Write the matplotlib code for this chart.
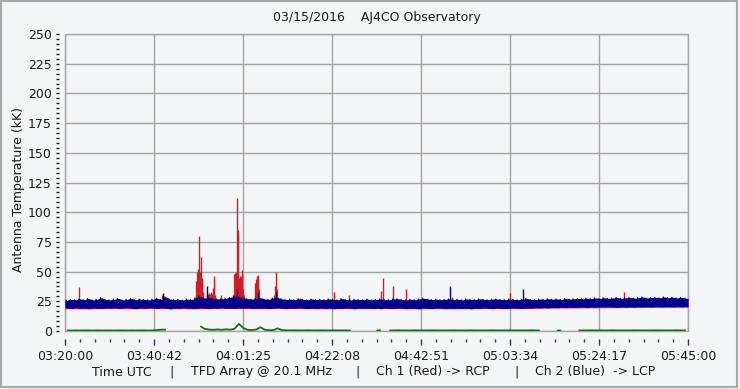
import matplotlib
matplotlib.use('Agg')
import matplotlib.pyplot as plt
import numpy as np
from matplotlib.ticker import MultipleLocator, AutoMinorLocator, FixedLocator
from matplotlib.patches import Rectangle

# ---------------- data (seconds after 03:20:00 UTC) ----------------
BIN_S = 60
T_END = 8700

blue_hi = [
    26.0, 26.6, 26.2, 27.0, 26.3, 27.3, 26.1, 26.7, 28.0, 26.4,
    26.2, 26.8, 27.4, 26.1, 26.6, 27.5, 26.3, 26.9, 26.5, 26.2,
    26.7, 27.6, 26.4, 28.8, 26.8, 26.3, 26.6, 26.0, 26.9, 26.4,
    28.0, 29.0, 27.8, 28.5, 27.4, 27.0, 27.2, 27.6, 28.2, 29.5,
    28.8, 27.8, 27.2, 26.8, 27.4, 28.0, 26.9, 26.6, 27.8, 28.2,
    27.0, 26.4, 26.8, 26.3, 27.2, 26.6, 26.2, 26.9, 26.4, 26.7,
    26.3, 27.0, 26.6, 26.2, 27.3, 26.4, 26.1, 26.7, 26.5, 26.3,
    26.8, 26.2, 26.6, 27.0, 26.4, 26.3, 26.9, 27.2, 26.5, 26.2,
    26.7, 26.3, 27.0, 27.6, 26.9, 26.4, 26.8, 26.3, 26.6, 27.0,
    26.4, 26.7, 26.2, 26.9, 26.6, 26.4, 27.1, 26.7, 26.3, 26.8,
    27.0, 26.5, 26.3, 26.9, 26.6, 26.2, 26.8, 27.3, 26.6, 26.4,
    26.9, 26.6, 27.2, 26.7, 27.0, 26.5, 27.3, 26.8, 27.1, 27.4,
    27.0, 27.6, 27.2, 27.8, 27.3, 28.0, 27.4, 27.7, 28.2, 27.5,
    27.9, 28.3, 27.6, 28.1, 28.6, 27.8, 28.2, 28.4, 27.9, 28.7,
    28.0, 28.4, 27.8, 28.3, 27.6,
]
blue_lo = [
    19.6, 19.0, 19.8, 19.2, 19.5, 18.9, 19.7, 19.3, 19.0, 19.6,
    19.2, 19.8, 19.1, 19.5, 19.9, 19.3, 18.8, 19.6, 19.2, 19.7,
    19.4, 19.0, 19.8, 19.3, 18.6, 19.5, 19.1, 19.7, 19.2, 19.4,
    19.0, 19.6, 19.3, 18.9, 19.5, 19.2, 19.8, 19.1, 19.4, 19.0,
    19.6, 19.2, 19.7, 19.0, 19.4, 19.1, 19.5, 18.9, 19.3, 19.6,
    19.2, 18.8, 19.5, 19.1, 19.7, 19.3, 18.9, 19.4, 19.0, 19.6,
    19.1, 19.5, 18.8, 19.3, 19.0, 19.6, 19.2, 18.7, 19.4, 19.1,
    19.5, 19.0, 19.3, 18.8, 19.4, 19.1, 18.9, 19.5, 19.2, 18.8,
    19.3, 19.0, 18.7, 19.4, 19.1, 18.9, 19.5, 19.2, 18.8, 19.3,
    19.0, 19.4, 18.9, 19.2, 18.6, 19.3, 19.0, 19.5, 19.1, 18.8,
    19.4, 19.1, 18.9, 19.3, 19.6, 19.2, 19.0, 19.5, 19.3, 19.7,
    19.4, 19.8, 19.5, 19.9, 19.6, 20.0, 19.7, 20.2, 19.8, 20.1,
    20.3, 19.9, 20.4, 20.1, 20.5, 20.2, 20.6, 20.3, 20.0, 20.5,
    20.2, 20.6, 20.3, 20.8, 20.4, 20.7, 20.3, 20.9, 20.5, 20.6,
    20.8, 20.4, 20.9, 20.5, 20.7,
]

RED_STEP_S = 300
red_lo = [18.8, 18.6, 18.9, 18.7, 19.0, 18.8, 18.7, 19.0, 18.9, 18.8,
          19.0, 18.9, 18.7, 18.9, 18.8, 19.0, 18.8, 18.9, 18.7, 18.9,
          19.0, 18.8, 19.2, 19.4, 19.5, 19.6, 19.7, 19.8, 19.9, 20.0]
red_hi = [25.5, 25.8, 25.6, 25.9, 25.7, 26.0, 26.2, 26.4, 26.2, 26.0,
          25.8, 25.6, 25.9, 25.7, 25.8, 25.6, 25.9, 25.7, 25.6, 25.8,
          25.7, 25.9, 26.0, 26.2, 26.4, 26.6, 26.8, 27.0, 27.2, 27.0]

red_spike_t = [196, 1357,
               1832, 1846, 1860, 1871, 1885, 1900, 1914, 1928,
               1983, 1997, 2011, 2025, 2039, 2053, 2067, 2077, 2090,
               2174, 2272,
               2342, 2356, 2370, 2384, 2398, 2412, 2426, 2440, 2454, 2468, 2482, 2496,
               2656, 2670, 2684, 2698, 2712,
               2914, 2928, 2942, 2956,
               3278, 3757, 3966, 4419, 4441, 4580, 4762, 5400, 6220, 7806]
red_spike_v = [37, 30,
               42, 50, 52, 80, 50, 62, 45, 33,
               32, 31, 32, 31, 33, 31, 36, 46, 30,
               30, 28,
               30, 48, 49, 50, 112, 85, 45, 46, 46, 51, 35, 30,
               40, 44, 46, 47, 35,
               30, 38, 50, 35,
               28, 33, 30, 34, 45, 38, 35, 29, 32, 33]

blue_spike_t = [1364, 1857, 1983, 2398, 2691, 2942, 5377, 6402]
blue_spike_v = [32, 30, 38, 35, 33, 33, 38, 35]

nan = float('nan')
green = [
    0.5, 0.4, 0.5, 0.4, 0.5, 0.5, 0.4, 0.5, 0.4, 0.5,
    0.5, 0.4, 0.5, 0.5, 0.4, 0.5, 0.4, 0.5, 0.5, 0.4,
    0.5, 0.8, 1.2, 1.0, nan, nan, nan, nan, nan, nan,
    nan, 4.0, 1.8, 1.2, 1.0, 1.3, 1.0, 1.4, 1.1, 2.0,
    6.0, 2.5, 1.0, 0.8, 1.2, 3.2, 1.0, 0.7, 0.8, 2.2,
    0.7, 0.6, 0.5, 0.6, 0.5, 0.5, 0.6, 0.5, 0.5, 0.6,
    0.5, 0.5, 0.6, 0.5, 0.5, 0.5, 0.5, nan, nan, nan,
    nan, nan, 0.5, 0.6, nan, 0.5, 0.5, 0.6, 0.5, 0.5,
    0.5, 0.6, 0.5, 0.5, 0.5, 0.6, 0.5, 0.5, 0.5, 0.5,
    0.6, 0.5, 0.5, 0.5, 0.6, 0.5, 0.5, 0.5, 0.5, 0.6,
    0.5, 0.5, 0.5, 0.6, 0.5, 0.5, 0.5, 0.5, 0.6, 0.5,
    0.5, nan, nan, nan, 0.4, 0.4, nan, nan, nan, 0.5,
    0.5, 0.5, 0.6, 0.5, 0.5, 0.5, 0.5, 0.6, 0.5, 0.5,
    0.5, 0.5, 0.6, 0.5, 0.5, 0.5, 0.5, 0.6, 0.5, 0.5,
    0.5, 0.5, 0.6, 0.5, 0.5,
]

xtick_labels = ["03:20:00", "03:40:42", "04:01:25", "04:22:08",
                "04:42:51", "05:03:34", "05:24:17", "05:45:00"]

title_date = "03/15/2016"
title_site = "AJ4CO Observatory"
ylabel = "Antenna Temperature (kK)"
footer = ["Time UTC", "|", "TFD Array @ 20.1 MHz", "|",
          "Ch 1 (Red) -> RCP", "|", "Ch 2 (Blue)  -> LCP"]
footer_x = [92, 169, 191, 355, 376, 514, 535]

# ---------------- style ----------------
BG = '#f4f5f7'
GRID = '#a3a3a3'
RED = '#cc1f2c'
BLUE = '#00008c'
GREEN = '#1c6e1c'
TXT = '#1a1a1a'
W, H = 740, 389

fig = plt.figure(figsize=(W / 100, H / 100), dpi=100, facecolor=BG)
ax = fig.add_axes([65 / W, (H - 331) / H, 623 / W, 297 / H])
ax.set_facecolor(BG)

# red channel
t_red = np.arange(len(red_lo)) * RED_STEP_S
ax.fill_between(t_red, red_lo, red_hi, color=RED, lw=0, zorder=3)
ax.vlines(red_spike_t, 24, red_spike_v, color=RED, lw=1.0, zorder=3)

# blue channel (min/max envelope per bin)
n = len(blue_hi)
tb = np.arange(n) * BIN_S
tc = tb + BIN_S * 0.5
fx = np.r_[0, tc, T_END]
flo = np.r_[blue_lo[0], blue_lo, blue_lo[-1]]
fhi = np.r_[blue_hi[0], blue_hi, blue_hi[-1]]
ax.fill_between(fx, flo, fhi, color=BLUE, lw=0, zorder=4)
bx = np.empty(2 * n)
by = np.empty(2 * n)
bx[0::2] = tb + BIN_S * 0.25
bx[1::2] = tb + BIN_S * 0.75
by[0::2] = blue_hi
by[1::2] = blue_lo
ax.plot(bx, by, color=BLUE, lw=0.8, zorder=4)
ax.vlines(blue_spike_t, 24, blue_spike_v, color=BLUE, lw=1.0, zorder=4)

# green channel
ax.plot(tc, green, color=GREEN, lw=1.3, zorder=5, solid_capstyle='butt')

# axes
ax.set_xlim(0, T_END)
ax.set_ylim(0, 250)
ax.xaxis.set_major_locator(FixedLocator(np.linspace(0, T_END, len(xtick_labels))))
ax.set_xticklabels(xtick_labels)
ax.xaxis.set_minor_locator(AutoMinorLocator(6))
ax.yaxis.set_major_locator(MultipleLocator(25))
ax.yaxis.set_minor_locator(AutoMinorLocator(6))

for s in ax.spines.values():
    s.set_visible(False)
ax.spines['bottom'].set_position(('outward', 6))
ax.spines['left'].set_position(('outward', 4))

ax.tick_params(axis='x', which='major', length=4.5, width=1, color='#30305a',
               labelsize=9, labelcolor=TXT, pad=3)
ax.tick_params(axis='x', which='minor', length=2.5, width=1, color='#30305a')
ax.tick_params(axis='y', which='major', length=2.5, width=1, color=TXT,
               labelsize=9, labelcolor=TXT, pad=3)
ax.tick_params(axis='y', which='minor', length=2.5, width=1, color=TXT)

ax.grid(True, which='major', color=GRID, lw=1)
ax.set_axisbelow(True)
ax.add_patch(Rectangle((0, 0), 1, 1, transform=ax.transAxes, fill=False,
                       edgecolor=GRID, lw=1, clip_on=False, zorder=2))

# texts
fig.text(376.5 / W, 1 - 18 / H, title_date + "    " + title_site,
         ha='center', va='center', fontsize=9, color=TXT)
fig.text(19 / W, 1 - 189 / H, ylabel, rotation=90, ha='center', va='center',
         fontsize=9, color=TXT)
for s, xp in zip(footer, footer_x):
    fig.text(xp / W, 1 - 372 / H, s, ha='left', va='center', fontsize=9, color=TXT)

# outer frame
fig.patches.append(Rectangle((1 / W, 2 / H), 736 / W, 386 / H, transform=fig.transFigure,
                             fill=False, edgecolor='#a8a8a8', lw=1.5))

fig.savefig('out.png', dpi=100, facecolor=BG)
